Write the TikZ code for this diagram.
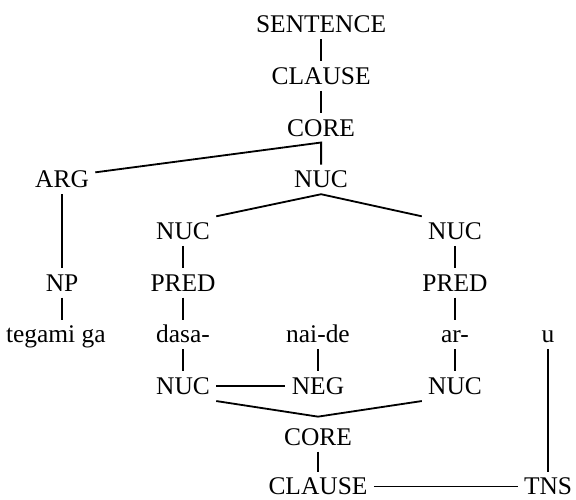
\documentclass[tikz,border=0pt]{standalone}
\usepackage{fontspec}
\setmainfont{Liberation Serif}
\usepackage{tikz}

\begin{document}
\begin{tikzpicture}[lbl/.style={inner sep=3pt, text height=9.3pt, text depth=0pt, font=\fontsize{14}{16}\selectfont}, line width=1pt]
        \useasboundingbox (0,0) rectangle (11.14,9.67);
        \node[lbl] (sent) at (6.21,9.2) {SENTENCE};
        \node[lbl] (clA) at (6.21,8.2) {CLAUSE};
        \node[lbl] (coreA) at (6.21,7.2) {CORE};
        \node[lbl] (arg) at (1.2,6.2) {ARG};
        \node[lbl] (nucA) at (6.21,6.2) {NUC};
        \node[lbl] (nucL) at (3.54,5.2) {NUC};
        \node[lbl] (nucR) at (8.8,5.2) {NUC};
        \node[lbl] (np) at (1.2,4.2) {NP};
        \node[lbl] (predL) at (3.54,4.2) {PRED};
        \node[lbl] (predR) at (8.8,4.2) {PRED};
        \node[lbl] (tegami) at (1.08,3.2) {tegami ga};
        \node[lbl] (dasa) at (3.54,3.2) {dasa-};
        \node[lbl] (naide) at (6.15,3.2) {nai-de};
        \node[lbl] (ar) at (8.8,3.2) {ar-};
        \node[lbl] (u) at (10.6,3.2) {u};
        \node[lbl] (nucLL) at (3.54,2.2) {NUC};
        \node[lbl] (neg) at (6.15,2.2) {NEG};
        \node[lbl] (nucRR) at (8.8,2.2) {NUC};
        \node[lbl] (coreB) at (6.15,1.22) {CORE};
        \node[lbl] (clB) at (6.15,0.26) {CLAUSE};
        \node[lbl] (tns) at (10.6,0.26) {TNS};
        \draw (sent) -- (clA);
        \draw (clA) -- (coreA);
        \draw (arg.12) -- (coreA.south) -- (nucA.north);
        \draw (nucL.north east) -- (nucA.south) -- (nucR.north west);
        \draw (arg) -- (np);
        \draw (np.south) -- (np.south |- tegami.north);
        \draw (nucL) -- (predL);
        \draw (predL) -- (dasa);
        \draw (dasa) -- (nucLL);
        \draw (nucR) -- (predR);
        \draw (predR) -- (ar);
        \draw (ar) -- (nucRR);
        \draw (naide) -- (neg);
        \draw (nucLL) -- (neg);
        \draw (nucLL.south east) -- ([yshift=3pt]coreB.north) -- (nucRR.south west);
        \draw (coreB) -- (clB);
        \draw (clB) -- (tns);
        \draw (u) -- (tns);
    \end{tikzpicture}
\end{document}
